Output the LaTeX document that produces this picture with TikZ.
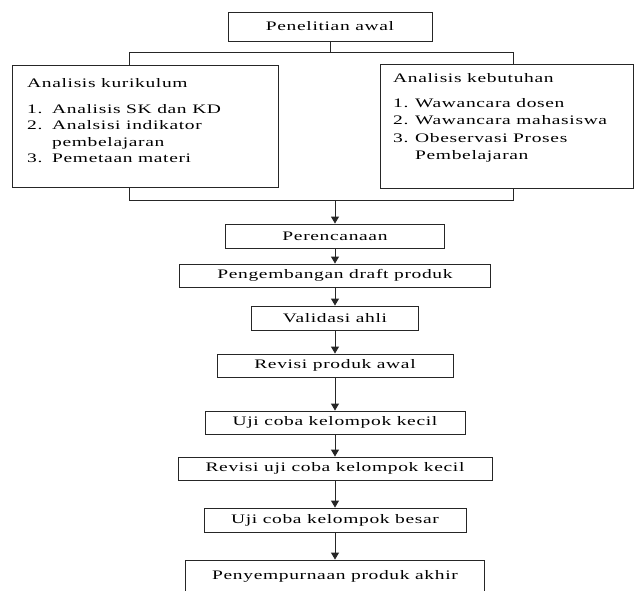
\documentclass[tikz,border=0pt]{standalone}
\usepackage{fontspec}
\setmainfont{Liberation Serif}[FakeStretch=1.5,LetterSpace=5]
\usetikzlibrary{arrows.meta}

\begin{document}
\begin{tikzpicture}[x=1pt,y=-1pt,
  every node/.style={font=\fontsize{13}{16.5}\selectfont, text=black},
  box/.style={draw=black!85, line width=0.9pt, inner sep=0pt},
  line/.style={draw=black!85, line width=0.9pt},
  flow/.style={line, -{Triangle[width=8pt,length=7pt]}}]
\useasboundingbox (0,0) rectangle (635,590);

% Top box
\node[box, minimum width=204pt, minimum height=29pt] (awal) at (330,26.5) {Penelitian awal};

% Side boxes
\node[box, minimum width=266pt, minimum height=122pt] (kurikulum) at (145,126) {};
\node[anchor=base west, inner sep=0pt] (kurtext) at (27,87) {\begin{tabular}[t]{@{}p{25pt}@{}l@{}}
  \multicolumn{2}{@{}l@{}}{Analisis kurikulum}\\[9.5pt]
  1. & Analisis SK dan KD\\
  2. & Analsisi indikator\\
     & pembelajaran\\
  3. & Pemetaan materi
\end{tabular}};

\node[box, minimum width=253pt, minimum height=124pt] (kebutuhan) at (506.5,126) {};
\node[anchor=base west, inner sep=0pt, font=\fontsize{13}{17.5}\selectfont] (kebtext) at (393,82) {\begin{tabular}[t]{@{}p{22pt}@{}l@{}}
  \multicolumn{2}{@{}l@{}}{Analisis kebutuhan}\\[7.5pt]
  1. & Wawancara dosen\\
  2. & Wawancara mahasiswa\\
  3. & Obeservasi Proses\\
     & Pembelajaran
\end{tabular}};

% Bracket lines
\coordinate (split) at (330,52);
\coordinate (topL) at (129,52);
\coordinate (topR) at (513,52);
\coordinate (botL) at (129,200);
\coordinate (botR) at (513,200);
\coordinate (join) at (335,200);
\draw[line] (awal) -- (split);
\draw[line] (kurikulum.north -| topL) -- (topL) -- (topR) -- (kebutuhan.north -| topR);
\draw[line] (kurikulum.south -| botL) -- (botL) -- (botR) -- (kebutuhan.south -| botR);

% Main flow
\node[box, minimum width=219pt, minimum height=24pt] (per) at (335,236) {Perencanaan};
\node[box, minimum width=311pt, minimum height=23pt] (dev) at (335,275.5) {Pengembangan draft produk};
\node[box, minimum width=167pt, minimum height=24pt] (val) at (335,318) {Validasi ahli};
\node[box, minimum width=236pt, minimum height=23pt] (rev) at (335,365.5) {Revisi produk awal};
\node[box, minimum width=260pt, minimum height=23pt] (ujik) at (335,422.5) {Uji coba kelompok kecil};
\node[box, minimum width=314pt, minimum height=23pt] (revk) at (335,468.5) {Revisi uji coba kelompok kecil};
\node[box, minimum width=262pt, minimum height=24pt] (ujib) at (335,520) {Uji coba kelompok besar};
\node[box, minimum width=299pt, minimum height=32pt] (akh) at (335,576) {Penyempurnaan produk akhir};

% Arrows
\draw[flow] (join) -- (per);
\foreach \a/\b in {per/dev, dev/val, val/rev, rev/ujik, ujik/revk, revk/ujib, ujib/akh}
  \draw[flow] (\a) -- (\b);
\end{tikzpicture}
\end{document}
